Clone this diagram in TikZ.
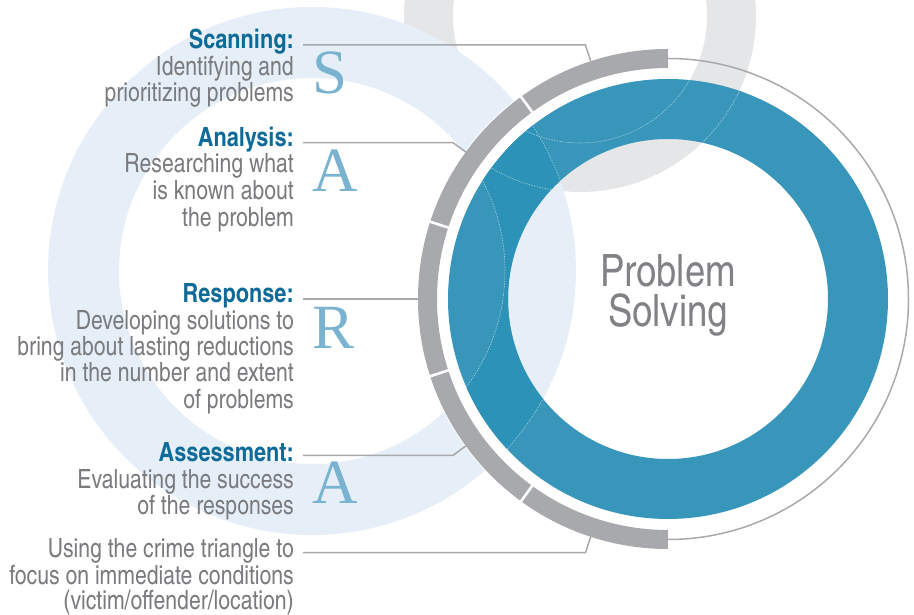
\documentclass[tikz,border=0pt]{standalone}
\usepackage{fontspec}
\IfFontExistsTF{texgyreheroscn-regular.otf}{%
  \setmainfont{texgyreheroscn-regular.otf}[BoldFont=texgyreheroscn-bold.otf]%
  \newfontfamily\bodyfont{texgyreheroscn-regular.otf}[FakeStretch=0.975]%
}{%
  \setmainfont{TeX Gyre Heros}[FakeStretch=0.82]%
  \newfontfamily\bodyfont{TeX Gyre Heros}[FakeStretch=0.80]%
}
\newfontfamily\sarafont{Liberation Serif}
\definecolor{greyring}{HTML}{E5E6E8}
\definecolor{lightring}{HTML}{E6EFF7}
\definecolor{ringblue}{HTML}{3796BA}
\definecolor{ringdark}{HTML}{2D92B7}
\definecolor{arcgrey}{HTML}{A7A9AC}
\definecolor{headblue}{HTML}{0E6B97}
\definecolor{bodygrey}{HTML}{7A7B7E}
\definecolor{titlegrey}{HTML}{808285}
\definecolor{letterblue}{HTML}{7AB3CF}
\tikzset{
  head/.style={font=\bfseries\fontsize{26.5}{26.5}\selectfont, text=headblue, anchor=base east, inner sep=0pt},
  body/.style={font=\bodyfont\fontsize{26.5}{26.5}\selectfont, text=bodygrey, anchor=base east, inner sep=0pt},
  letter/.style={font=\sarafont\fontsize{63}{63}\selectfont, text=letterblue, anchor=base west, inner sep=0pt},
  title/.style={font=\fontsize{44.5}{44.5}\selectfont, text=titlegrey, anchor=base, inner sep=0pt},
  leader/.style={draw=arcgrey, line width=1.5pt},
}
\begin{document}
\begin{tikzpicture}[x=1pt,y=1pt]
\useasboundingbox (0,0) rectangle (914,615);
\clip (0,0) rectangle (914,615);
\coordinate (G) at (580,599);
\coordinate (L) at (312,344);
\coordinate (C) at (668,316);
% background rings
\fill[greyring, even odd rule] (G) circle[radius=176] (G) circle[radius=127];
\fill[lightring, even odd rule] (L) circle[radius=264] (L) circle[radius=193];
% white band under the segmented arc
\draw[white, line width=31pt] ([shift={(90:235.5)}]C) arc[start angle=90, end angle=270, radius=235.5];
% main blue ring
\fill[ringblue, even odd rule] (C) circle[radius=220] (C) circle[radius=160];
\begin{scope}[even odd rule]
  \clip (C) circle[radius=220] (C) circle[radius=160];
  \fill[ringdark] (L) circle[radius=264] (L) circle[radius=193];
  \draw[white, opacity=.55, line width=0.6pt, dash pattern=on 1.5pt off 1.2pt]
    (L) circle[radius=264] (L) circle[radius=193] (G) circle[radius=176] (G) circle[radius=127];
\end{scope}
% thin outer circle and segmented arc
\draw[arcgrey, line width=1.5pt] (C) circle[radius=240.5];
\draw[arcgrey, line width=19pt] ([shift={(90:240.5)}]C) arc[start angle=90, end angle=270, radius=240.5];
\foreach \a in {126,162,198,234}
  \draw[white, line width=2.6pt] ([shift={(\a:230.5)}]C) -- ([shift={(\a:250.5)}]C);
% leader targets
\coordinate (t1) at ([shift={(108:250)}]C);
\coordinate (t2) at ([shift={(144:250)}]C);
\coordinate (t3) at ([shift={(180:250)}]C);
\coordinate (t4) at ([shift={(216:250)}]C);
\coordinate (t5) at ([shift={(252:250)}]C);
\coordinate (s1) at (303,570);
\coordinate (s2) at (303,472.3);
\coordinate (s3) at (303,316);
\coordinate (s4) at (303,159.5);
\coordinate (s5) at (303,62.3);
\coordinate (b1) at (585.5,570);
\coordinate (b2) at (453,472.3);
\coordinate (b4) at (453,159.5);
\coordinate (b5) at (585.5,62.3);
\draw[leader] (s1) -- (b1) -- (t1);
\draw[leader] (s2) -- (b2) -- (t2);
\draw[leader] (s3) -- (t3);
\draw[leader] (s4) -- (b4) -- (t4);
\draw[leader] (s5) -- (b5) -- (t5);
% texts
\node[head] (scan) at (294,566.7) {Scanning:};
\node[body] (scan1) at (294,539) {Identifying and};
\node[body] (scan2) at (294,513.3) {prioritizing problems};
\node[head] (ana) at (294,468.3) {Analysis:};
\node[body] (ana1) at (294,442) {Researching what};
\node[body] (ana2) at (294,415) {is known about};
\node[body] (ana3) at (294,388.3) {the problem};
\node[head] (resp) at (294,312.3) {Response:};
\node[body] (resp1) at (294,285.7) {Developing solutions to};
\node[body] (resp2) at (294,259) {bring about lasting reductions};
\node[body] (resp3) at (294,233.3) {in the number and extent};
\node[body] (resp4) at (294,206.7) {of problems};
\node[head] (ass) at (294,153.3) {Assessment:};
\node[body] (ass1) at (294,126.7) {Evaluating the success};
\node[body] (ass2) at (294,100) {of the responses};
\node[body] (cri1) at (294,57.3) {Using the crime triangle to};
\node[body] (cri2) at (294,30.7) {focus on immediate conditions};
\node[body] (cri3) at (294,5) {(victim/offender/location)};
\node[letter] (lS) at (312,521) {S};
\node[letter] (lA1) at (312,423.3) {A};
\node[letter] (lR) at (312,266.7) {R};
\node[letter] (lA2) at (312,111) {A};
\node[title] (ttl) at (668,328)
  {\baselineskip=40pt\lineskiplimit=-100pt\lineskip=0pt\vtop{\halign{\hfil#\hfil\cr Problem\cr Solving\cr}}};
\end{tikzpicture}
\end{document}
